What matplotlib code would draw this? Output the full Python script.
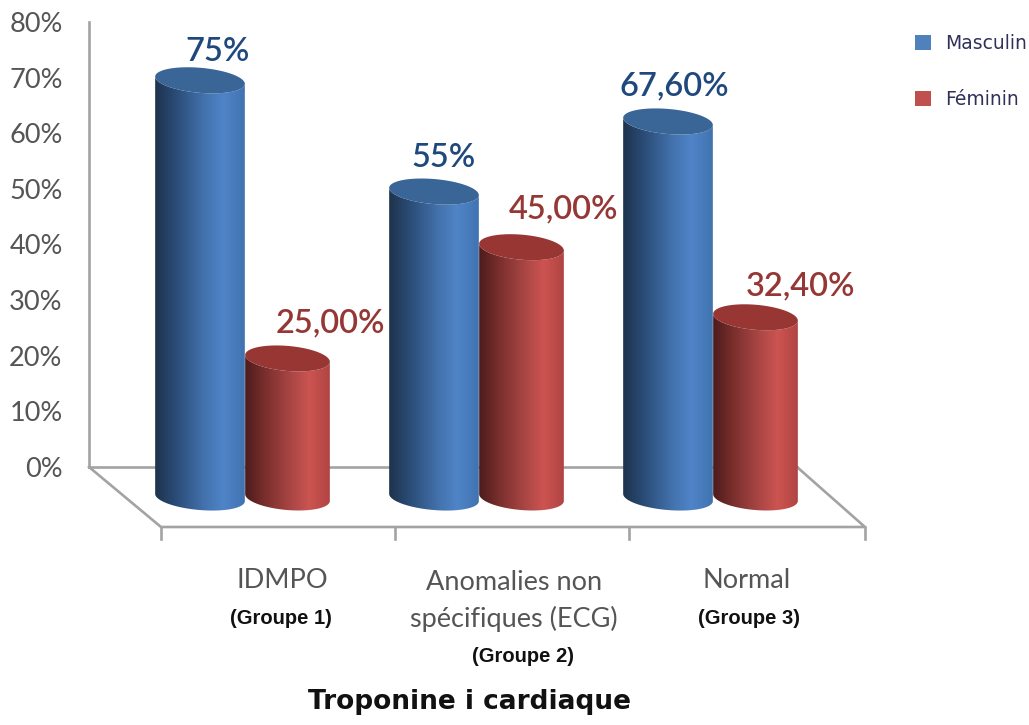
import numpy as np
import matplotlib
matplotlib.use('Agg')
import matplotlib.pyplot as plt
from matplotlib.colors import LinearSegmentedColormap
from matplotlib.patches import Patch, Polygon

categories = ['IDMPO', 'Anomalies non\nspécifiques (ECG)', 'Normal']
groupes = ['(Groupe 1)', '(Groupe 2)', '(Groupe 3)']
masculin = [75, 55, 67.6]
feminin = [25, 45, 32.4]
masculin_labels = ['75%', '55%', '67,60%']
feminin_labels = ['25,00%', '45,00%', '32,40%']
yticks = [0, 10, 20, 30, 40, 50, 60, 70, 80]

W, H = 1029, 725
PX_PER_PCT = 445 / 80  # y scale of the picture
FLOOR = -60 / PX_PER_PCT
BASE = -30.5 / PX_PER_PCT  # cylinders stand nearer the viewer than the back wall

blue_cmap = LinearSegmentedColormap.from_list(
    'b', [(0, '#1d3048'), (0.25, '#2b4d78'), (0.55, '#4372ad'), (0.75, '#4f84c8'), (1, '#3f72ae')])
red_cmap = LinearSegmentedColormap.from_list(
    'r', [(0, '#481a1a'), (0.25, '#7a2f2d'), (0.55, '#ab4745'), (0.75, '#cc5451'), (1, '#ae4341')])


def ellipse_pts(cx, cy, a, b, t):
    # tilted ellipse, offsets worked out in pixels then y goes back to percent
    ang = np.radians(5)
    x = cx + a * np.cos(t) * np.cos(ang) - b * np.sin(t) * np.sin(ang)
    y = cy - (a * np.cos(t) * np.sin(ang) + b * np.sin(t) * np.cos(ang)) / PX_PER_PCT
    return x, y


def cylinder(ax, cx, value, half, cmap, top_color, zorder):
    b = 12.5
    top = value + BASE
    x_bot, y_bot = ellipse_pts(cx, BASE, half, b, np.linspace(np.pi, 0, 60))  # front edge of the base
    x_top, y_top = ellipse_pts(cx, top, half, b, np.linspace(0, np.pi, 60))
    verts = np.column_stack([np.r_[x_bot, x_top], np.r_[y_bot, y_top]])
    im = ax.imshow(np.linspace(0, 1, 256).reshape(1, -1), cmap=cmap, aspect='auto',
                   extent=(cx - half - 2, cx + half + 2, FLOOR, 80), zorder=zorder)
    body = Polygon(verts, closed=True, transform=ax.transData, facecolor='none', edgecolor='none', clip_on=False)
    ax.add_patch(body)
    im.set_clip_box(fig.bbox)
    im.set_clip_path(body)
    x_e, y_e = ellipse_pts(cx, top, half, b, np.linspace(0, 2 * np.pi, 120))
    ax.add_patch(Polygon(np.column_stack([x_e, y_e]), closed=True, facecolor=top_color,
                         edgecolor='none', zorder=zorder + 0.1, clip_on=False))


fig = plt.figure(figsize=(W / 100, H / 100), dpi=100)
ax = fig.add_axes([89 / W, (H - 467) / H, (W - 89) / W, 445 / H])
ax.patch.set_visible(False)
grey = '#a3a3a3'

# floor of the 3d box
floor_x = [89, 161, 865, 797]
floor_y = [0, FLOOR, FLOOR, 0]
ax.plot(floor_x, floor_y, color=grey, lw=1.9, clip_on=False, zorder=1, solid_joinstyle='miter')
ax.plot([89, 797], [0, 0], color=grey, lw=1.9, clip_on=False, zorder=1)
for tx in [161, 395, 629, 865]:
    ax.plot([tx, tx], [FLOOR, FLOOR - 12 / PX_PER_PCT], color=grey, lw=1.9, clip_on=False, zorder=1)

blue_x = [200, 434, 668]
red_x = [287.5, 521.5, 755.5]
for i in range(3):
    cylinder(ax, red_x[i], feminin[i], 42.5, red_cmap, '#983634', 3)
    cylinder(ax, blue_x[i], masculin[i], 45, blue_cmap, '#3a6597', 5)

ax.set_xlim(89, W)
ax.set_ylim(0, 80)
ax.set_xticks([])
ax.set_yticks(yticks, [f'{v}%' for v in yticks])
ax.tick_params(axis='y', length=0, pad=19, labelsize=19.5, labelcolor='#555555')
for lab in ax.get_yticklabels():
    lab.set_family('Lato')
for s in ['top', 'right', 'bottom']:
    ax.spines[s].set_visible(False)
ax.spines['left'].set_color(grey)
ax.spines['left'].set_linewidth(1.9)

# value labels
blue_off = [(18, 28), (10, 34), (6, 35)]
red_off = [(43, 35), (42, 38), (45, 31)]
for i in range(3):
    ax.annotate(masculin_labels[i], (blue_x[i], masculin[i] + BASE),
                xytext=(blue_off[i][0] * 0.72, blue_off[i][1] * 0.72),
                textcoords='offset points', ha='center', va='center', fontsize=23.5, family='Lato',
                color='#1f497d', fontweight='semibold', zorder=8, annotation_clip=False)
    ax.annotate(feminin_labels[i], (red_x[i], feminin[i] + BASE),
                xytext=(red_off[i][0] * 0.72, red_off[i][1] * 0.72),
                textcoords='offset points', ha='center', va='center', fontsize=23.5, family='Lato',
                color='#953735', fontweight='semibold', zorder=8, annotation_clip=False)


# category labels, placed in figure pixels
def fx(px):
    return px / W


def fy(py):
    return 1 - py / H


cat_x = [282, 514, 747]
cat_y = [581, 601, 581]
for i in range(3):
    fig.text(fx(cat_x[i]), fy(cat_y[i]), categories[i], ha='center', va='center', fontsize=19.5, family='Lato',
             color='#555555', linespacing=1.5)
grp_y = [618, 656, 618]
grp_x = [281, 523, 749]
for i in range(3):
    fig.text(fx(grp_x[i]), fy(grp_y[i]), groupes[i], ha='center', va='center', fontsize=14.5,
             family='Liberation Sans', fontweight='bold', color='#111111')
fig.text(fx(470), fy(702), 'Troponine i cardiaque', ha='center', va='center', fontsize=19,
         family='DejaVu Sans', fontweight='bold', color='#111111')

handles = [Patch(facecolor='#4f81bd', edgecolor='none', label='Masculin'),
           Patch(facecolor='#c0504d', edgecolor='none', label='Féminin')]
fig.legend(handles=handles, loc='upper left', bbox_to_anchor=(915 / W, 1 - 34 / H), frameon=False,
           fontsize=13.5, labelspacing=1.99, handlelength=0.85, handleheight=0.85, handletextpad=0.75,
           borderpad=0, borderaxespad=0, labelcolor='#30305a')

fig.savefig('out.png', dpi=100)
